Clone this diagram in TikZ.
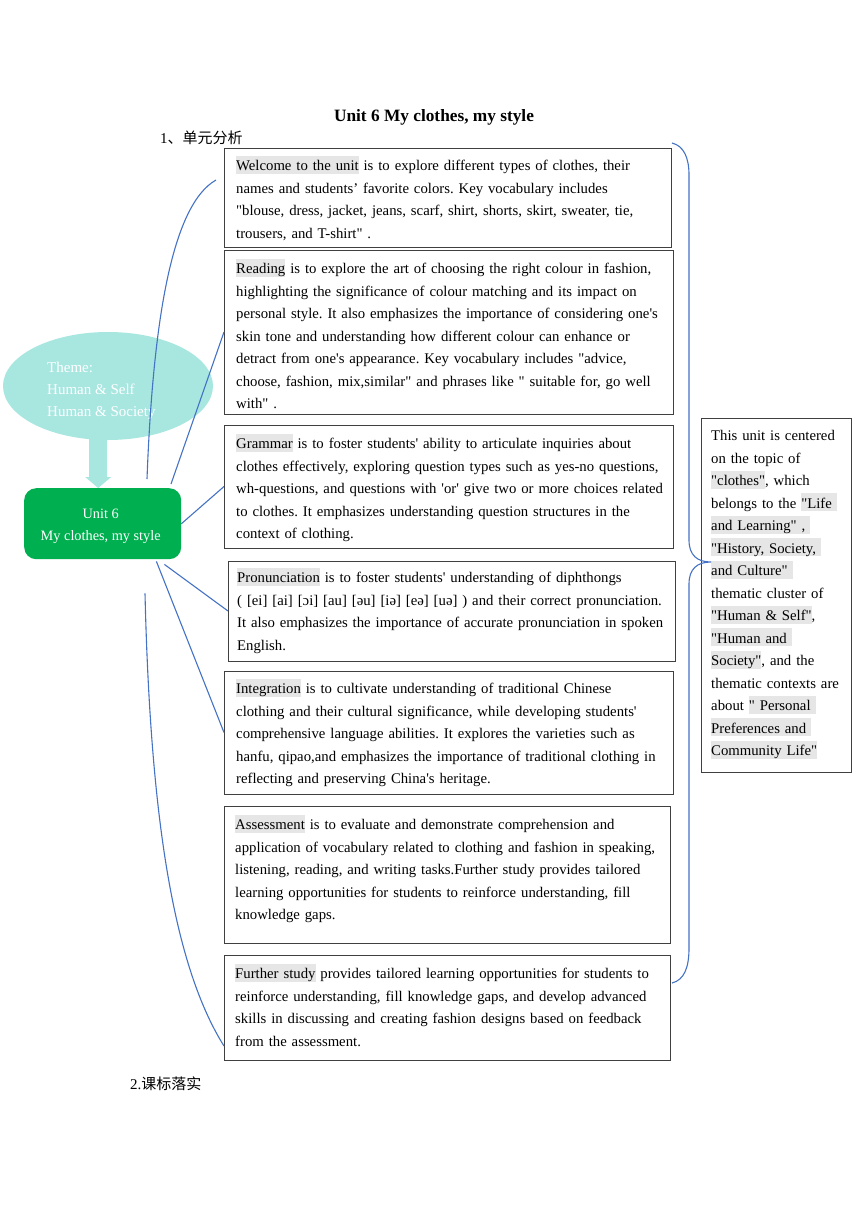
\documentclass[tikz,border=0pt]{standalone}
\usepackage{fontspec}
\setmainfont{Liberation Serif}[Ligatures={TeXOff,CommonOff}]
\newfontfamily\cjk{Noto Sans CJK SC}
\usetikzlibrary{shapes.geometric,calc}
\definecolor{themecol}{HTML}{A8E6E0}
\definecolor{unitgreen}{HTML}{00B050}
\definecolor{linkblue}{HTML}{4472C4}
\definecolor{hlgray}{HTML}{E6E6E6}
\definecolor{boxcol}{HTML}{404040}
\newcommand\hlt[1]{{\setlength{\fboxsep}{0pt}\colorbox{hlgray}{\rule[-3pt]{0pt}{18pt}#1}}}
\tikzset{
  box/.style={draw=boxcol, line width=0.9pt, inner sep=0pt, outer sep=0pt, anchor=north west},
  txt/.style={anchor=north west, inner sep=0pt, align=left, text width=440pt,
    font=\fontsize{14.75}{22.5}\selectfont\frenchspacing},
  rtxt/.style={txt, text width=148pt},
  link/.style={draw=linkblue, line width=1.1pt},
}
\begin{document}
\begin{tikzpicture}[x=1pt,y=-1pt]
\useasboundingbox (0,0) rectangle (860,1216);

% headings
\node[anchor=base, inner sep=0pt, font=\fontsize{17.3}{19}\selectfont\bfseries] (title) at (434,121.5) {Unit 6 My clothes, my style};
\node[anchor=base west, inner sep=0pt, font=\fontsize{15}{17}\selectfont] (sec1) at (160,143) {1{\cjk 、单元分析}};
\node[anchor=base west, inner sep=0pt, font=\fontsize{15}{17}\selectfont] (sec2) at (130,1089) {2.{\cjk 课标落实}};

% theme ellipse
\node[ellipse, fill=themecol, minimum width=210pt, minimum height=108pt, inner sep=0pt] (theme) at (108,386) {};
\node[anchor=north west, inner sep=0pt, align=left, text=white, font=\fontsize{15}{22}\selectfont] (themet) at (47,356.5) {\strut Theme:\\Human \& Self\\Human \& Society};

% unit box
\node[anchor=north west, fill=unitgreen, rounded corners=12pt, minimum width=157pt, minimum height=71pt, inner sep=0pt] (unit) at (24,488) {};
\node[inner sep=0pt, align=center, text=white, font=\fontsize{14.3}{22}\selectfont] (unitt) at ($(unit.center)+(-2,3)$) {Unit 6\\My clothes, my style};

% arrow theme -> unit
\coordinate (atop) at ($(theme.south)+(-10,-4)$);
\coordinate (atip) at ($(unit.north)+(-4.5,0)$);
\fill[themecol] ($(atop)+(-9,0)$) -- ($(atip)+(-9,-11)$) -- ($(atip)+(-13,-11)$) -- (atip)
  -- ($(atip)+(13,-11)$) -- ($(atip)+(9,-11)$) -- ($(atop)+(9,0)$) -- cycle;

% boxes
\node[box, minimum width=447pt, minimum height=99pt] (welcome) at (224,148) {};
\node[box, minimum width=449pt, minimum height=164pt] (reading) at (224,250) {};
\node[box, minimum width=449pt, minimum height=123pt] (grammar) at (224,425) {};
\node[box, minimum width=447pt, minimum height=100pt] (pron) at (228,561) {};
\node[box, minimum width=449pt, minimum height=123pt] (integ) at (224,671) {};
\node[box, minimum width=446pt, minimum height=137pt] (assess) at (224,806) {};
\node[box, minimum width=446pt, minimum height=105pt] (further) at (224,955) {};
\node[box, minimum width=150pt, minimum height=354pt] (right) at (701,418) {};

% texts
\node[txt] (welcomet) at (236,154.75) {\strut\hlt{Welcome to the unit} is to explore different types of clothes, their\\
names and students’ favorite colors. Key vocabulary includes\\
"blouse, dress, jacket, jeans, scarf, shirt, shorts, skirt, sweater, tie,\\
trousers, and T-shirt" .};

\node[txt] (readingt) at (236,257.75) {\strut\hlt{Reading} is to explore the art of choosing the right colour in fashion,\\
highlighting the significance of colour matching and its impact on\\
personal style. It also emphasizes the importance of considering one's\\
skin tone and understanding how different colour can enhance or\\
detract from one's appearance. Key vocabulary includes "advice,\\
choose, fashion, mix,similar" and phrases like " suitable for, go well\\
with" .};

\node[txt] (grammart) at (236,432.75) {\strut\hlt{Grammar} is to foster students' ability to articulate inquiries about\\
clothes effectively, exploring question types such as yes-no questions,\\
wh-questions, and questions with 'or' give two or more choices related\\
to clothes. It emphasizes understanding question structures in the\\
context of clothing.};

\node[txt] (pront) at (237,566.75) {\strut\hlt{Pronunciation} is to foster students' understanding of diphthongs\\
( [ei] [ai] [ɔi] [au] [əu] [iə] [eə] [uə] ) and their correct pronunciation.\\
It also emphasizes the importance of accurate pronunciation in spoken\\
English.};

\node[txt] (integt) at (236,677.75) {\strut\hlt{Integration} is to cultivate understanding of traditional Chinese\\
clothing and their cultural significance, while developing students'\\
comprehensive language abilities. It explores the varieties such as\\
hanfu, qipao,and emphasizes the importance of traditional clothing in\\
reflecting and preserving China's heritage.};

\node[txt] (assesst) at (235,813.75) {\strut\hlt{Assessment} is to evaluate and demonstrate comprehension and\\
application of vocabulary related to clothing and fashion in speaking,\\
listening, reading, and writing tasks.Further study provides tailored\\
learning opportunities for students to reinforce understanding, fill\\
knowledge gaps.};

\node[txt] (furthert) at (235,962.75) {\strut\hlt{Further study} provides tailored learning opportunities for students to\\
reinforce understanding, fill knowledge gaps, and develop advanced\\
skills in discussing and creating fashion designs based on feedback\\
from the assessment.};

\node[rtxt] (rightt) at (711,424.75) {\strut This unit is centered\\
on the topic of\\
\hlt{"clothes"}, which\\
belongs to the \hlt{"Life\ }\\
\hlt{and Learning" ,\ }\\
\hlt{"History, Society,\ }\\
\hlt{and Culture"\ }\\
thematic cluster of\\
\hlt{"Human \& Self"},\\
\hlt{"Human and\ }\\
\hlt{Society"}, and the\\
thematic contexts are\\
about \hlt{" Personal\ }\\
\hlt{Preferences and\ }\\
\hlt{Community Life"}};

% connectors
\draw[link] ($(unit.north west)+(123,-9)$) .. controls (153,320) and (172,205) .. ($(welcome.north west)+(-8,32)$);
\draw[link] ($(unit.north west)+(147,-4)$) -- (reading.west);
\draw[link] (unit.east) -- (grammar.west);
\draw[link] ($(unit.south east)+(-17,5)$) -- (pron.west);
\draw[link] ($(unit.south east)+(-25,2)$) -- (integ.west);
\draw[link] ($(unit.south west)+(121,34)$) .. controls (150,800) and (170,960) .. ($(further.south west)+(0,-14)$);

% brace
\coordinate (btop) at ($(welcome.north east)+(1,-5)$);
\coordinate (btip) at ($(right.west)+(10,-33)$);
\coordinate (bbot) at ($(further.north east)+(2,28)$);
\draw[link] (btop) .. controls (684,146) and (689,158) .. (689,175) -- (689,540)
  .. controls (689,555) and (697,562) .. (btip)
  .. controls (697,562) and (689,569) .. (689,584) -- (689,948)
  .. controls (689,968) and (684,980) .. (bbot);
\end{tikzpicture}
\end{document}
